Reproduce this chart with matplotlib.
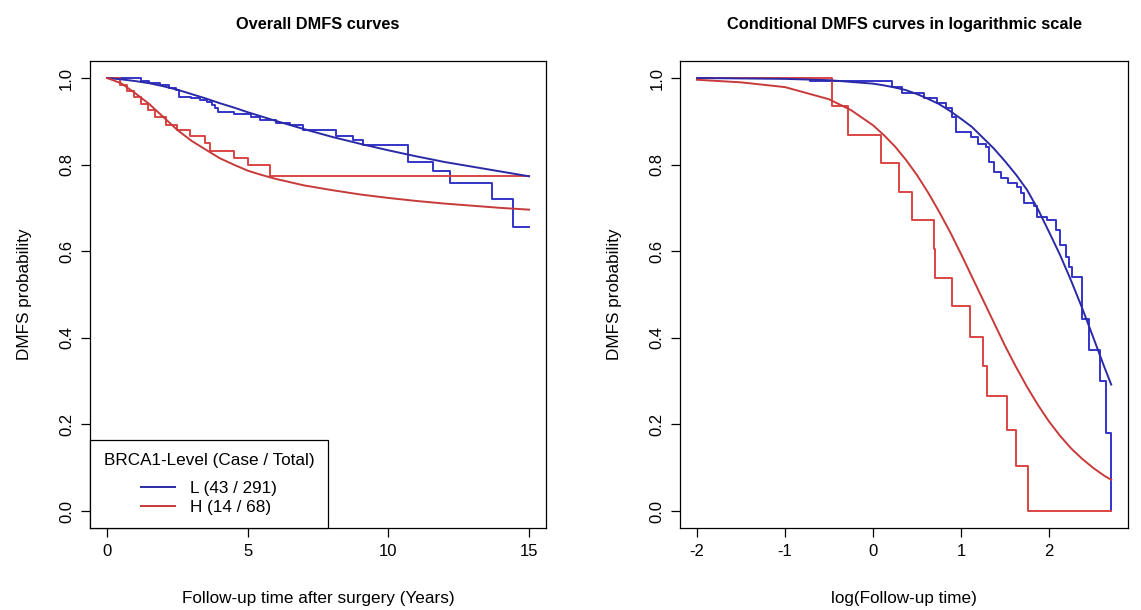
import matplotlib
matplotlib.use('Agg')
from matplotlib import pyplot as plt

plt.rcParams['font.family'] = ['Liberation Sans', 'DejaVu Sans']

# ---- left panel: overall DMFS (years) ----
# Kaplan-Meier steps
blue_km_t = [0, 1.2, 1.5, 1.9, 2.2, 2.45, 2.55, 3.0, 3.3, 3.55, 3.72, 3.85, 3.96, 4.5, 5.1,
             5.45, 6.0, 6.5, 6.98, 8.15, 8.75, 9.1, 10.68, 11.6, 12.19, 13.67, 14.43, 15.0]
blue_km_s = [1.0, 0.993, 0.989, 0.985, 0.978, 0.972, 0.957, 0.953, 0.950, 0.945, 0.938, 0.930,
             0.922, 0.916, 0.910, 0.903, 0.897, 0.891, 0.880, 0.865, 0.857, 0.845, 0.807, 0.785,
             0.757, 0.720, 0.656, 0.656]
red_km_t = [0, 0.45, 0.7, 0.95, 1.2, 1.45, 1.7, 2.1, 2.48, 2.95, 3.48, 3.66, 4.5, 5.02, 5.78, 15.0]
red_km_s = [1.0, 0.985, 0.970, 0.955, 0.940, 0.925, 0.910, 0.892, 0.880, 0.865, 0.849, 0.832,
            0.816, 0.800, 0.774, 0.774]

# fitted (smooth) curves
fit_t = [0, 0.5, 1, 1.5, 2, 2.5, 3, 3.5, 4, 4.5, 5, 5.5, 6, 7, 8, 9, 10, 11, 12, 13, 14, 15]
blue_fit_s = [1.0, 0.997, 0.993, 0.988, 0.981, 0.973, 0.963, 0.953, 0.942, 0.932, 0.921, 0.911,
              0.901, 0.882, 0.864, 0.848, 0.833, 0.819, 0.806, 0.795, 0.784, 0.773]
red_fit_s = [1.0, 0.988, 0.965, 0.94, 0.91, 0.88, 0.855, 0.835, 0.815, 0.80, 0.786, 0.776,
             0.767, 0.752, 0.741, 0.731, 0.723, 0.716, 0.710, 0.705, 0.700, 0.696]

# ---- right panel: conditional DMFS, log time ----
blue_log_t = [-2.0, -0.71, 0.22, 0.33, 0.58, 0.73, 0.83, 0.90, 0.94, 1.11, 1.19, 1.28, 1.32,
              1.38, 1.45, 1.53, 1.64, 1.68, 1.72, 1.83, 1.87, 1.98, 2.08, 2.13, 2.19, 2.23,
              2.26, 2.38, 2.45, 2.58, 2.65, 2.70, 2.708]
blue_log_s = [1.0, 0.993, 0.980, 0.965, 0.953, 0.942, 0.930, 0.910, 0.875, 0.863, 0.848, 0.840,
              0.805, 0.782, 0.770, 0.758, 0.748, 0.735, 0.712, 0.704, 0.680, 0.673, 0.649, 0.615,
              0.587, 0.563, 0.540, 0.443, 0.372, 0.30, 0.18, 0.0, 0.0]
red_log_t = [-2.0, -0.46, -0.28, 0.09, 0.30, 0.44, 0.69, 0.70, 0.90, 1.10, 1.25, 1.30, 1.52,
             1.63, 1.76, 2.708]
red_log_s = [1.0, 0.935, 0.869, 0.803, 0.736, 0.671, 0.605, 0.538, 0.474, 0.402, 0.334, 0.265,
             0.188, 0.105, 0.0, 0.0]

logfit_t = [-2.0, -1.5, -1.0, -0.5, -0.25, 0.0, 0.125, 0.25, 0.375, 0.5, 0.625, 0.75, 0.875,
            1.0, 1.125, 1.25, 1.375, 1.5, 1.625, 1.75, 1.875, 2.0, 2.125, 2.25, 2.375, 2.5,
            2.625, 2.708]
blue_logfit_s = [1.0, 0.999, 0.998, 0.995, 0.991, 0.987, 0.983, 0.978, 0.972, 0.963, 0.952,
                 0.94, 0.924, 0.906, 0.887, 0.862, 0.837, 0.808, 0.777, 0.742, 0.697, 0.645,
                 0.592, 0.533, 0.47, 0.403, 0.335, 0.292]
red_logfit_s = [0.996, 0.99, 0.979, 0.951, 0.926, 0.891, 0.868, 0.842, 0.811, 0.776, 0.736,
                0.692, 0.645, 0.594, 0.541, 0.488, 0.435, 0.382, 0.333, 0.287, 0.245, 0.207,
                0.174, 0.145, 0.121, 0.10, 0.082, 0.072]

legend_title = 'BRCA1-Level (Case / Total)'
legend_labels = ['L (43 / 291)', 'H (14 / 68)']

BLUE = '#3434C8'
BLUE_FIT = '#2A2AA8'
RED = '#DC4444'
RED_FIT = '#C83A3A'
FS = 12.3

fig = plt.figure(figsize=(11.41, 6.10), dpi=100)
ax1 = fig.add_axes([0.0790, 0.1339, 0.3995, 0.7666])
ax2 = fig.add_axes([0.5962, 0.1339, 0.3922, 0.7666])


def style_axes(ax, title, xlabel):
    ax.set_title(title, fontsize=11.8, fontweight='bold', pad=23)
    ax.set_xlabel(xlabel, fontsize=FS)
    ax.set_ylabel('DMFS probability', fontsize=FS)
    ax.set_ylim(-0.04, 1.04)
    ax.set_yticks([0.0, 0.2, 0.4, 0.6, 0.8, 1.0])
    ax.set_yticklabels(['0.0', '0.2', '0.4', '0.6', '0.8', '1.0'])
    ax.tick_params(direction='out', length=6.5, width=0.9, labelsize=12, pad=5)
    for lab in ax.get_yticklabels():
        lab.set_rotation(90)
        lab.set_va('center')
    for sp in ax.spines.values():
        sp.set_linewidth(0.9)
    ax.xaxis.set_label_coords(0.5, -0.135)


# left
ax1.step(blue_km_t, blue_km_s, where='post', color=BLUE, lw=1.4)
ax1.step(red_km_t, red_km_s, where='post', color=RED, lw=1.4)
l1, = ax1.plot(fit_t, blue_fit_s, color=BLUE_FIT, lw=1.4)
l2, = ax1.plot(fit_t, red_fit_s, color=RED_FIT, lw=1.4)
ax1.set_xlim(-0.6, 15.6)
ax1.set_xticks([0, 5, 10, 15])
style_axes(ax1, 'Overall DMFS curves', 'Follow-up time after surgery (Years)')
ax1.yaxis.set_label_coords(-0.128, 0.5)

leg = ax1.legend([l1, l2], legend_labels, title=legend_title, loc='lower left',
                 borderaxespad=0, fancybox=False, framealpha=1, edgecolor='black',
                 fontsize=FS, title_fontsize=FS, alignment='center',
                 handlelength=2.0, borderpad=0.8, labelspacing=0.22, handletextpad=0.9)
leg.get_frame().set_linewidth(0.9)
leg._legend_box.sep = 9

# right
ax2.step(blue_log_t, blue_log_s, where='post', color=BLUE, lw=1.4)
ax2.step(red_log_t, red_log_s, where='post', color=RED, lw=1.4)
ax2.plot(logfit_t, blue_logfit_s, color=BLUE_FIT, lw=1.4)
ax2.plot(logfit_t, red_logfit_s, color=RED_FIT, lw=1.4)
ax2.set_xlim(-2.19, 2.896)
ax2.set_xticks([-2, -1, 0, 1, 2])
ax2.set_xticklabels(['-2', '-1', '0', '1', '2'])
style_axes(ax2, 'Conditional DMFS curves in logarithmic scale', 'log(Follow-up time)')
ax2.yaxis.set_label_coords(-0.131, 0.5)

fig.savefig('out.png', dpi=100)
